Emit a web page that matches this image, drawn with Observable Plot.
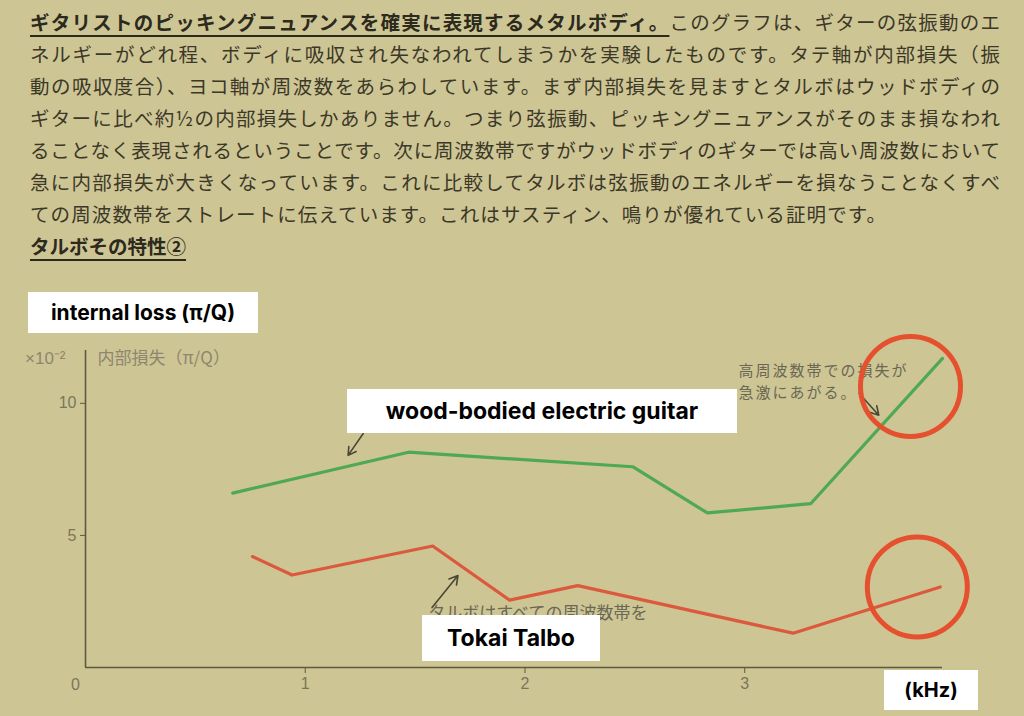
<!DOCTYPE html>
<html>
<head>
<meta charset="utf-8">
<script src="https://cdn.jsdelivr.net/npm/d3@7"></script>
<script src="https://cdn.jsdelivr.net/npm/@observablehq/plot@0.6"></script>
<style>
  html, body { margin: 0; padding: 0; }
  body { width: 1024px; height: 716px; overflow: hidden; background: #cec595; position: relative;
         font-family: "Noto Sans CJK JP", sans-serif; }
  #text { position: absolute; left: 30px; top: 6px; width: 970px; color: #3b3828; font-size: 19.5px; }
  #text .ln { height: 32px; line-height: 32px; white-space: nowrap; text-align: justify; text-align-last: justify; }
  #text .ln.left { text-align: left; text-align-last: left; letter-spacing: 1.1px; }
  #text b { font-weight: 700; color: #2c2a1d; text-decoration: underline; text-decoration-thickness: 1.5px; text-underline-offset: 5px; }
  #chart { position: absolute; left: 0; top: 270px; }
  .box { position: absolute; background: #fff; color: #000; font-family: Inter, "Liberation Sans", sans-serif;
         font-weight: 700; display: flex; align-items: center; justify-content: center; white-space: nowrap; }
</style>
</head>
<body>
<div id="text">
  <div class="ln"><b>ギタリストのピッキングニュアンスを確実に表現するメタルボディ。</b>このグラフは、ギターの弦振動のエ</div>
  <div class="ln">ネルギーがどれ程、ボディに吸収され失なわれてしまうかを実験したものです。タテ軸が内部損失（振</div>
  <div class="ln">動の吸収度合）、ヨコ軸が周波数をあらわしています。まず内部損失を見ますとタルボはウッドボディの</div>
  <div class="ln">ギターに比べ約½の内部損失しかありません。つまり弦振動、ピッキングニュアンスがそのまま損なわれ</div>
  <div class="ln">ることなく表現されるということです。次に周波数帯ですがウッドボディのギターでは高い周波数において</div>
  <div class="ln">急に内部損失が大きくなっています。これに比較してタルボは弦振動のエネルギーを損なうことなくすべ</div>
  <div class="ln left">ての周波数帯をストレートに伝えています。これはサスティン、鳴りが優れている証明です。</div>
  <div class="ln left" style="letter-spacing:0"><b>タルボその特性②</b></div>
</div>
<div id="chart"></div>
<div class="box" style="left:28px; top:292px; width:230px; height:41px; font-size:21px;">internal loss (π/Q)</div>
<div class="box" style="left:347px; top:389px; width:390px; height:44px; font-size:23px;">wood-bodied electric guitar</div>
<div class="box" style="left:422px; top:615px; width:178px; height:46px; font-size:23px;">Tokai Talbo</div>
<div class="box" style="left:884px; top:670px; width:94px; height:40px; font-size:20px;">(kHz)</div>
<script>
// Frequency (kHz) and internal loss (×10⁻², π/Q)
const freqWood  = [0.67, 1.47, 2.49, 2.83, 3.30, 3.90];
const lossWood  = [6.6, 8.15, 7.6, 5.85, 6.2, 11.7];
const freqTalbo = [0.76, 0.94, 1.58, 1.93, 2.24, 3.22, 3.89];
const lossTalbo = [4.2, 3.5, 4.6, 2.55, 3.1, 1.3, 3.05];
const xTicks = [1, 2, 3];
const yTicks = [5, 10];

const wood  = freqWood.map((f, i) => ({f, loss: lossWood[i]}));
const talbo = freqTalbo.map((f, i) => ({f, loss: lossTalbo[i]}));

const axisColor = "#5d5a3f";
const labelColor = "#7a765c";
const annoColor = "#6a6752";

const chart = Plot.plot({
  width: 1024,
  height: 446,
  marginTop: 80,
  marginRight: 82,
  marginBottom: 49,
  marginLeft: 85,
  x: {domain: [0, 3.9]},
  y: {domain: [0, 12]},
  style: {background: "transparent", color: labelColor, fontFamily: "Liberation Sans, sans-serif", overflow: "visible"},
  marks: [
    Plot.ruleY([0], {stroke: axisColor, strokeWidth: 1.6}),
    Plot.ruleX([0], {stroke: axisColor, strokeWidth: 1.6}),
    Plot.axisX({ticks: xTicks, tickFormat: d => String(d), tickSize: 6, tickPadding: 4, fontSize: 16, label: null, stroke: axisColor}),
    Plot.axisY({ticks: yTicks, tickFormat: d => String(d), tickSize: 5, tickPadding: 4, fontSize: 16, label: null, stroke: axisColor}),
    Plot.text([{x: 0, y: 0, t: "0"}], {x: "x", y: "y", text: "t", dx: -10, dy: 17, fontSize: 16, fill: labelColor}),
    Plot.text([{x: 0, y: 12, t: "×10⁻²"}], {x: "x", y: "y", text: "t", dx: -20, dy: 8, textAnchor: "end", fontSize: 17, fill: "#8c876e"}),
    Plot.text([{x: 0, y: 12, t: "内部損失（π/Q）"}], {x: "x", y: "y", text: "t", dx: 12, dy: 8, textAnchor: "start", fontSize: 17, fill: "#8c876e", fontFamily: "Noto Sans CJK JP"}),
    Plot.text([{x: 2.972, y: 11.65, t: "高周波数帯での損失が\n急激にあがる。"}], {x: "x", y: "y", text: "t", textAnchor: "start", lineAnchor: "top", lineHeight: 1.5, fontSize: 15, fill: annoColor, fontFamily: "Noto Sans CJK JP"}),
    Plot.text([{x: 1.56, y: 2.05, t: "タルボはすべての周波数帯を"}], {x: "x", y: "y", text: "t", textAnchor: "start", fontSize: 17, fill: annoColor, fontFamily: "Noto Sans CJK JP"}),
    Plot.arrow([{x1: 1.264, y1: 8.86, x2: 1.195, y2: 8.03}], {x1: "x1", y1: "y1", x2: "x2", y2: "y2", stroke: "#4a4733", strokeWidth: 1.6, headLength: 9}),
    Plot.arrow([{x1: 1.577, y1: 2.27, x2: 1.695, y2: 3.48}], {x1: "x1", y1: "y1", x2: "x2", y2: "y2", stroke: "#4a4733", strokeWidth: 1.6, headLength: 9}),
    Plot.arrow([{x1: 3.52, y1: 10.38, x2: 3.61, y2: 9.55}], {x1: "x1", y1: "y1", x2: "x2", y2: "y2", stroke: "#4a4733", strokeWidth: 1.6, headLength: 9}),
    Plot.line(wood, {x: "f", y: "loss", stroke: "#4fa852", strokeWidth: 3.2}),
    Plot.line(talbo, {x: "f", y: "loss", stroke: "#db5a3e", strokeWidth: 3.2}),
    Plot.dot([wood[wood.length - 1]], {x: "f", y: "loss", r: 50, dx: -32, dy: 28, stroke: "#e5502e", strokeWidth: 5, fill: "none"}),
    Plot.dot([talbo[talbo.length - 1]], {x: "f", y: "loss", r: 50, dx: -23, dy: 0, stroke: "#e5502e", strokeWidth: 5, fill: "none"})
  ]
});
// widen the spacing of the small in-chart annotation, as printed
chart.querySelectorAll("text").forEach(t => {
  if (t.textContent.includes("高周波数帯")) t.style.letterSpacing = "2px";
});
document.getElementById("chart").appendChild(chart);
</script>
</body>
</html>
